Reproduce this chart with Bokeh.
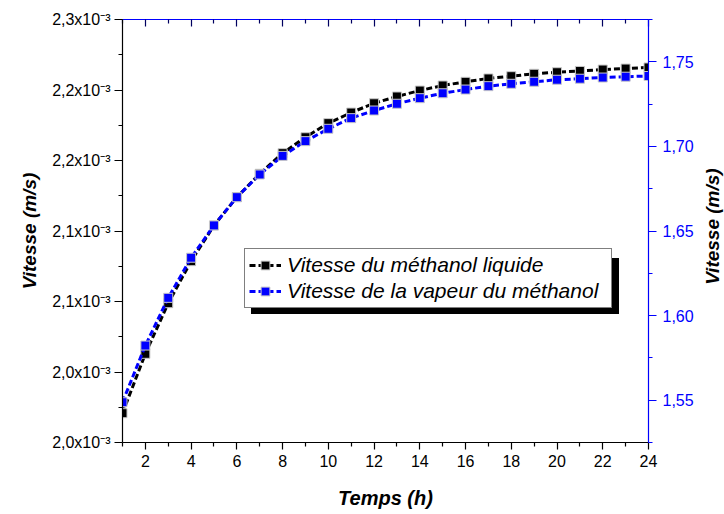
import math
from bokeh.plotting import figure
from bokeh.layouts import row
from bokeh.models import (Range1d, LinearAxis, FixedTicker, CustomJSTickFormatter,
                          Legend, LegendItem, Label)
from bokeh.embed import file_html
from bokeh.resources import INLINE

# ---- data ----
temps_h = list(range(1, 25))
vitesse_liquide = [2.0208e-3, 2.0629e-3, 2.0988e-3, 2.1286e-3, 2.1539e-3, 2.1740e-3,
                   2.1906e-3, 2.2052e-3, 2.2165e-3, 2.2265e-3, 2.2340e-3, 2.2406e-3,
                   2.2454e-3, 2.2496e-3, 2.2532e-3, 2.2558e-3, 2.2582e-3, 2.2598e-3,
                   2.2615e-3, 2.2626e-3, 2.2635e-3, 2.2645e-3, 2.2652e-3, 2.2660e-3]
vitesse_vapeur = [1.5488, 1.5823, 1.6105, 1.6342, 1.6533, 1.6700, 1.6834, 1.6944,
                  1.7031, 1.7104, 1.7167, 1.7212, 1.7252, 1.7285, 1.7314, 1.7336,
                  1.7356, 1.7370, 1.7382, 1.7394, 1.7400, 1.7407, 1.7412, 1.7416]

x_ticks = [2, 4, 6, 8, 10, 12, 14, 16, 18, 20, 22, 24]
left_tick_values = [2.00e-3, 2.05e-3, 2.10e-3, 2.15e-3, 2.20e-3, 2.25e-3, 2.30e-3]
left_tick_labels = ["2,0x10⁻³", "2,0x10⁻³", "2,1x10⁻³", "2,1x10⁻³",
                    "2,2x10⁻³", "2,2x10⁻³", "2,3x10⁻³"]
right_tick_values = [1.55, 1.60, 1.65, 1.70, 1.75]
right_tick_labels = ["1,55", "1,60", "1,65", "1,70", "1,75"]

label_liquide = "Vitesse du méthanol liquide"
label_vapeur = "Vitesse de la vapeur du méthanol"
y_title = "Vitesse (m/s)"

FONT = "Liberation Sans"
BLUE = "#0000FF"

TOP, FRAME_H, BOTTOM = 19, 423, 66

p = figure(frame_width=526, frame_height=FRAME_H,
           min_border_left=122, min_border_right=52, min_border_top=TOP, min_border_bottom=BOTTOM,
           x_range=Range1d(1, 24), y_range=Range1d(2.0e-3, 2.3e-3),
           output_backend="svg", toolbar_location=None,
           x_axis_location=None, y_axis_location=None)
p.extra_y_ranges = {"right": Range1d(1.525, 1.775)}
p.xgrid.visible = False
p.ygrid.visible = False
p.outline_line_color = None
p.background_fill_color = "white"
p.border_fill_color = "white"

x_minor = [t - 1 for t in x_ticks]
left_minor = [v + 0.025e-3 for v in left_tick_values[:-1]]
right_minor = [v - 0.025 for v in right_tick_values] + [right_tick_values[-1] + 0.025]

PICK = """let b = 0;
for (let i = 0; i < vals.length; i++) {
  if (Math.abs(vals[i] - tick) < Math.abs(vals[b] - tick)) b = i;
}
return labs[b];"""

def style_axis(ax, color):
    ax.axis_line_color = color
    ax.axis_line_width = 1.2
    ax.major_tick_line_color = color
    ax.minor_tick_line_color = color
    ax.major_tick_line_width = 1.2
    ax.minor_tick_line_width = 1.2
    ax.major_label_text_font = FONT
    ax.major_label_text_font_size = "16px"
    ax.major_label_text_color = color
    ax.axis_label_text_font = FONT
    ax.axis_label_text_font_size = "19px"
    ax.axis_label_text_font_style = "bold italic"
    ax.axis_label_text_color = "black"

# bottom axis
xb = LinearAxis(ticker=FixedTicker(ticks=x_ticks, minor_ticks=x_minor), axis_label="Temps (h)")
style_axis(xb, "black")
xb.major_tick_out = 7
xb.major_tick_in = 0
xb.minor_tick_out = 4
xb.minor_tick_in = 0
xb.major_label_standoff = 5
xb.axis_label_standoff = 17
xb.axis_label_text_font_size = "20px"
p.add_layout(xb, "below")

# top axis
xt = LinearAxis(ticker=FixedTicker(ticks=x_ticks, minor_ticks=x_minor),
                formatter=CustomJSTickFormatter(code="return ''"))
style_axis(xt, BLUE)
xt.major_tick_line_color = "#000060"
xt.minor_tick_line_color = "#000060"
xt.major_tick_in = 7
xt.major_tick_out = 0
xt.minor_tick_in = 4
xt.minor_tick_out = 0
xt.major_label_standoff = 0
xt.major_label_text_font_size = "0px"
p.add_layout(xt, "above")

# left axis
yl = LinearAxis(ticker=FixedTicker(ticks=left_tick_values, minor_ticks=left_minor),
                formatter=CustomJSTickFormatter(
                    args=dict(vals=left_tick_values, labs=left_tick_labels), code=PICK),
                axis_label=y_title)
style_axis(yl, "black")
yl.major_tick_out = 8
yl.major_tick_in = 0
yl.minor_tick_out = 4
yl.minor_tick_in = 0
yl.major_label_standoff = 4
yl.axis_label_standoff = 9
p.add_layout(yl, "left")

# right axis (its title is drawn in the narrow strip to the right)
yr = LinearAxis(y_range_name="right",
                ticker=FixedTicker(ticks=right_tick_values, minor_ticks=right_minor),
                formatter=CustomJSTickFormatter(
                    args=dict(vals=right_tick_values, labs=right_tick_labels), code=PICK))
style_axis(yr, BLUE)
yr.major_tick_out = 8
yr.major_tick_in = 0
yr.minor_tick_out = 4
yr.minor_tick_in = 0
yr.major_label_standoff = 6
p.add_layout(yr, "right")

# series
l1 = p.line(temps_h, vitesse_liquide, line_color="black", line_width=3, line_dash="6 3")
m1 = p.scatter(temps_h, vitesse_liquide, marker="square", size=9, fill_color="black",
               line_color="#c8c8c8", line_width=1)
l2 = p.line(temps_h, vitesse_vapeur, y_range_name="right", line_color=BLUE, line_width=3,
            line_dash="6 3")
m2 = p.scatter(temps_h, vitesse_vapeur, y_range_name="right", marker="square", size=9,
               fill_color=BLUE, line_color="#c8c8c8", line_width=1)

def make_legend(loc, shadow):
    if shadow:
        items = [LegendItem(label=" ", renderers=[l1, m1]),
                 LegendItem(label=" ", renderers=[l2, m2])]
    else:
        items = [LegendItem(label=label_liquide, renderers=[l1, m1]),
                 LegendItem(label=label_vapeur, renderers=[l2, m2])]
    lg = Legend(items=items, location=loc)
    lg.label_text_font = FONT
    lg.label_text_font_size = "21px"
    lg.label_text_font_style = "italic"
    lg.label_height = 22
    lg.label_width = 320
    lg.glyph_height = 22
    lg.glyph_width = 32
    lg.label_standoff = 6
    lg.spacing = 2
    lg.padding = 4
    lg.margin = 0
    lg.background_fill_alpha = 1.0
    lg.border_line_color = "black"
    lg.border_line_width = 1
    lg.label_text_color = "black"
    lg.background_fill_color = "black" if shadow else "white"
    return lg

p.add_layout(make_legend((129, 128), True), "center")
p.add_layout(make_legend((122, 134), False), "center")

# narrow strip holding the right-hand axis title (reads bottom-to-top)
total_h = TOP + FRAME_H + BOTTOM
p2 = figure(width=24, height=total_h, min_border=0,
            x_range=Range1d(0, 1), y_range=Range1d(0, total_h),
            output_backend="svg", toolbar_location=None,
            x_axis_location=None, y_axis_location=None)
p2.xgrid.visible = False
p2.ygrid.visible = False
p2.outline_line_color = None
p2.background_fill_color = "white"
p2.border_fill_color = "white"
p2.add_layout(Label(x=0.5, y=BOTTOM + FRAME_H / 2 - 20, text=y_title, angle=math.pi / 2,
                    text_align="center", text_baseline="middle", text_font=FONT,
                    text_font_size="19px", text_font_style="bold italic",
                    text_color="black"))

layout = row(p, p2)
open("out.html", "w").write(file_html(layout, INLINE))
